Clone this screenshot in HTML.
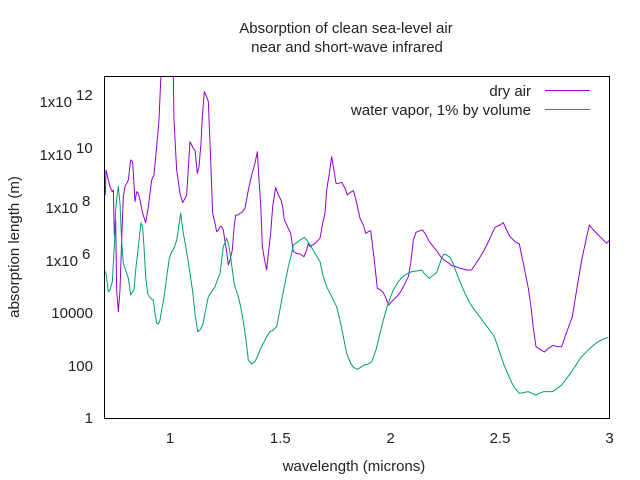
<!DOCTYPE html>
<html><head><meta charset="utf-8"><style>
body{margin:0;background:#fff}
svg{display:block}
text{font-family:"Liberation Sans",sans-serif;font-size:15px;fill:#222}
</style></head><body>
<svg width="640" height="480" viewBox="0 0 640 480">
<defs><clipPath id="c"><rect x="104" y="76" width="505.5" height="342.5"/></clipPath></defs>
<text x="346" y="33" text-anchor="middle">Absorption of clean sea-level air</text>
<text x="347" y="52" text-anchor="middle">near and short-wave infrared</text>
<g id="ticks" stroke="#000" stroke-width="1" fill="none"></g>
<g>
<text x="93" y="423" text-anchor="end">1</text>
<text x="93" y="371" text-anchor="end">100</text>
<text x="93" y="318" text-anchor="end">10000</text>
<text x="78" y="266" text-anchor="end">1x10</text><text x="82" y="259" font-size="13">6</text>
<text x="78" y="213" text-anchor="end">1x10</text><text x="82" y="206" font-size="13">8</text>
<text x="72" y="160" text-anchor="end">1x10</text><text x="76" y="153" font-size="13">10</text>
<text x="72" y="107" text-anchor="end">1x10</text><text x="76" y="100" font-size="13">12</text>
<text x="170" y="443" text-anchor="middle">1</text>
<text x="280.3" y="443" text-anchor="middle">1.5</text>
<text x="390.6" y="443" text-anchor="middle">2</text>
<text x="500" y="443" text-anchor="middle">2.5</text>
<text x="609.5" y="443" text-anchor="middle">3</text>
<text x="354" y="471" text-anchor="middle">wavelength (microns)</text>
<text transform="translate(19,247) rotate(-90)" text-anchor="middle">absorption length (m)</text>
<text x="531" y="96" text-anchor="end">dry air</text>
<text x="531" y="115" text-anchor="end">water vapor, 1% by volume</text>
</g>
<line x1="545" y1="90.5" x2="590" y2="90.5" stroke="#9400d3" stroke-width="1"/>
<line x1="545" y1="109.5" x2="590" y2="109.5" stroke="#009e73" stroke-width="1"/>
<g clip-path="url(#c)" fill="none" stroke-width="3" stroke-linejoin="round">
<g transform="translate(0,60) scale(0.33333)">
<polyline stroke="#9400d3" points="316,405 318,330 325,360 330,380 337,395 340,390 343,525 347,480 350,690 355,755 360,690 365,540 370,410 375,380 380,370 385,360 392,300 398,305 405,425 410,395 415,400 420,420 428,460 437,488 445,440 455,360 462,345 470,260 477,180 483,40 485,-50 518,-50 520,40 522,180 530,330 540,400 548,428 555,415 560,405 565,325 570,245 580,265 585,270 592,340 597,320 603,250 607,170 613,95 620,110 625,125 632,300 638,460 645,490 650,515 655,510 660,500 665,500 670,510 675,545 680,575 685,615 690,600 697,570 702,505 707,465 715,465 720,460 725,458 735,445 745,390 755,345 765,310 772,275 777,360 782,430 787,560 793,595 800,630 805,580 812,520 818,440 827,382 835,405 843,420 848,440 853,480 858,490 865,505 872,520 880,575 890,580 900,582 912,590 920,570 925,550 930,560 937,555 945,550 960,535"/>
<polyline stroke="#009e73" points="313,630 318,640 325,695 330,690 337,665 343,560 347,450 352,400 355,380 360,430 365,545 370,610 375,625 380,640 385,655 392,705 398,695 402,690 407,630 413,580 418,530 423,488 428,505 432,560 437,650 443,700 448,710 455,718 460,720 465,760 470,790 475,792 480,780 485,750 490,725 495,690 500,650 508,595 515,575 522,565 530,540 537,495 542,460 546,490 550,520 560,575 570,640 578,695 585,760 593,815 600,810 608,795 615,760 625,710 635,695 645,680 652,660 660,640 665,600 670,560 680,535 687,560 693,600 703,675 715,710 722,740 730,785 738,840 745,900 755,912 765,905 772,890 780,870 790,850 800,830 810,815 820,810 830,800 838,760 845,720 855,670 865,620 875,580 880,555 890,548 900,540 913,532 920,540 930,555 945,580 960,605"/>
</g>
<g transform="translate(320,60) scale(0.33333)">
<polyline stroke="#9400d3" points="0,535 8,490 15,460 20,390 28,340 35,290 40,320 48,370 55,370 65,367 75,385 82,405 90,398 100,392 108,420 120,475 130,495 137,520 145,515 152,512 158,560 165,620 172,685 182,690 190,698 198,715 206,735 215,725 225,715 235,705 245,690 255,670 265,650 272,610 280,540 288,517 300,512 308,510 318,525 328,545 340,560 352,575 362,590 372,600 385,608 395,617 408,620 420,625 430,627 440,630 455,630 465,615 478,595 490,575 502,552 512,530 525,502 540,495 550,488 560,510 570,530 585,545 598,552 610,610 625,685 633,740 640,805 648,860 660,868 673,876 685,865 700,856 710,860 725,860 735,830 748,795 757,770 765,720 775,660 785,600 798,540 808,495 820,510 835,525 845,535 860,550 869,540"/>
<polyline stroke="#009e73" points="0,605 10,650 20,680 35,710 50,740 62,790 70,830 80,880 92,910 100,922 112,928 122,922 132,915 145,912 155,905 168,870 180,820 190,780 200,745 210,715 220,690 235,665 248,650 260,642 275,635 290,633 305,630 315,643 328,655 340,645 350,638 358,615 365,595 372,582 380,585 390,592 400,612 410,640 420,665 435,700 450,730 460,745 475,765 490,785 505,805 522,828 530,850 540,880 552,915 565,945 575,968 585,985 598,1000 610,998 625,995 635,1000 648,1005 658,1000 670,995 685,995 698,995 712,985 725,975 740,955 755,935 770,912 782,893 795,880 810,865 830,848 850,837 865,832"/>
</g>
</g>
<rect x="104.5" y="76.5" width="505" height="342" fill="none" stroke="#000" stroke-width="1"/>
<script>
(function(){
var g=document.getElementById('ticks'),s='';
function Y(v){return 418.6-26.35*v;}
for(var n=0;n<13;n++){
 for(var k=1;k<10;k++){
  var v=n+Math.log10(k); if(v>12.7)break;
  var y=Y(v).toFixed(1), L=(k==1&&n%2==0)?9:4;
  s+='<line x1="104" y1="'+y+'" x2="'+(104+L)+'" y2="'+y+'"/><line x1="609.5" y1="'+y+'" x2="'+(609.5-L)+'" y2="'+y+'"/>';
 }
}
[170,280.3,390.6,500,609.5].forEach(function(x){
 s+='<line x1="'+x+'" y1="418.5" x2="'+x+'" y2="409.5"/><line x1="'+x+'" y1="76.5" x2="'+x+'" y2="85.5"/>';
});
g.innerHTML=s;
})();
</script>
</svg>
</body></html>
